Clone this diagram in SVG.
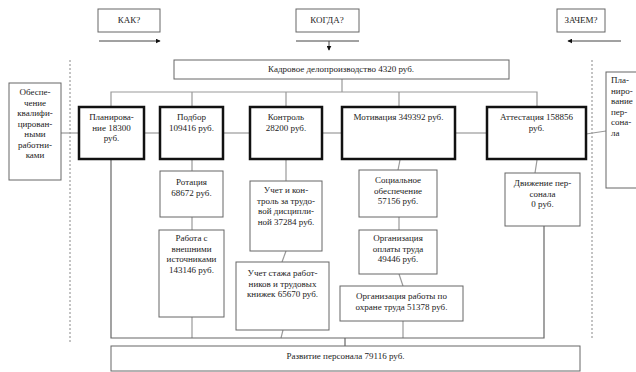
<svg xmlns="http://www.w3.org/2000/svg" width="636" height="372" viewBox="0 0 636 372">
<defs>
<style>
.t{font-family:"Liberation Serif","Times New Roman",serif;font-size:9px;fill:#222}
.c{text-anchor:middle}
.box{fill:#fff;stroke:#666;stroke-width:1}
.main{fill:#fff;stroke:#111;stroke-width:2.5}
.ln{stroke:#999;stroke-width:1.2;fill:none}
.dk{stroke:#666;stroke-width:1.2;fill:none}
.dash{stroke:#888;stroke-width:1;stroke-dasharray:2,2;fill:none}
.ar{stroke:#444;stroke-width:1;fill:none}
</style>
<marker id="ah" viewBox="0 0 8 8" refX="7" refY="4" markerWidth="5" markerHeight="5" orient="auto" markerUnits="userSpaceOnUse">
<path d="M0,0 L8,4 L0,8 z" fill="#111"/>
</marker>
</defs>
<rect width="636" height="372" fill="#fff"/>

<g id="connectors">
<line class="dash" x1="70" y1="60" x2="70" y2="344"/>
<line class="dash" x1="592" y1="60" x2="592" y2="338"/>
<line class="ar" x1="99" y1="41" x2="160" y2="41" marker-end="url(#ah)"/>
<line class="ar" x1="296" y1="41" x2="359" y2="41"/>
<line class="ar" x1="329" y1="41" x2="329" y2="50" marker-end="url(#ah)"/>
<line class="ar" x1="621" y1="41" x2="568" y2="41" marker-end="url(#ah)"/>
<line class="ln" x1="342" y1="79" x2="342" y2="92"/>
<polyline class="ln" points="111,108 111,92 537,92 537,108"/>
<line class="ln" x1="192" y1="92" x2="192" y2="108"/>
<line class="ln" x1="286" y1="92" x2="286" y2="108"/>
<line class="ln" x1="399" y1="92" x2="399" y2="108"/>
<line class="ln" x1="61" y1="133" x2="79" y2="133"/>
<line class="ln" x1="144" y1="133" x2="160" y2="133"/>
<line class="ln" x1="223" y1="133" x2="250" y2="133"/>
<line class="ln" x1="322" y1="133" x2="342" y2="133"/>
<line class="ln" x1="455" y1="133" x2="487" y2="133"/>
<line class="ln" x1="586" y1="134" x2="606" y2="131"/>
<line class="ln" x1="192" y1="160" x2="192" y2="171"/>
<line class="ln" x1="192" y1="217" x2="192" y2="230"/>
<line class="ln" x1="192" y1="317" x2="192" y2="338"/>
<line class="ln" x1="286" y1="160" x2="286" y2="181"/>
<line class="ln" x1="286" y1="251" x2="282" y2="262"/>
<line class="ln" x1="283" y1="330" x2="281" y2="338"/>
<line class="ln" x1="400" y1="160" x2="398" y2="170"/>
<line class="ln" x1="399" y1="217" x2="399" y2="230"/>
<line class="ln" x1="399" y1="274" x2="403" y2="286"/>
<line class="ln" x1="403" y1="321" x2="403" y2="338"/>
<line class="ln" x1="537" y1="160" x2="535" y2="173"/>
<polyline class="dk" points="111,160 111,338 544,338 544,226"/>
<line class="dk" x1="345" y1="338" x2="345" y2="346"/>
</g>

<g id="kak"><rect class="box" x="98" y="9" width="62" height="23"/><text class="t c" x="129" y="23">КАК?</text></g>
<g id="kogda"><rect class="box" x="296" y="9" width="63" height="23"/><text class="t c" x="327" y="23">КОГДА?</text></g>
<g id="zachem"><rect class="box" x="557" y="9" width="48" height="23"/><text class="t c" x="581" y="23">ЗАЧЕМ?</text></g>

<g id="kadr"><rect class="box" x="174" y="60" width="335" height="19"/><text class="t c" x="341" y="72">Кадровое делопроизводство 4320 руб.</text></g>

<g id="obesp"><rect class="box" x="9" y="83" width="52" height="97"/>
<text class="t c" x="35" y="95">Обеспе-</text>
<text class="t c" x="35" y="105.5">чение</text>
<text class="t c" x="35" y="116">квалифи-</text>
<text class="t c" x="35" y="126.5">цирован-</text>
<text class="t c" x="35" y="137">ными</text>
<text class="t c" x="35" y="147.5">работни-</text>
<text class="t c" x="35" y="158">ками</text>
</g>

<g id="planpers"><rect class="box" x="606" y="72" width="40" height="116"/>
<text class="t" x="611" y="83">Пла-</text>
<text class="t" x="611" y="93.5">ниро-</text>
<text class="t" x="611" y="104">вание</text>
<text class="t" x="611" y="114.5">пер-</text>
<text class="t" x="611" y="125">сона-</text>
<text class="t" x="611" y="135.5">ла</text>
</g>

<g id="plan"><rect class="main" x="79" y="107" width="65" height="52"/>
<text class="t c" x="111.5" y="120">Планирова-</text>
<text class="t c" x="111.5" y="130.5">ние 18300</text>
<text class="t c" x="111.5" y="141">руб.</text>
</g>
<g id="podbor"><rect class="main" x="160" y="107" width="63" height="52"/>
<text class="t c" x="191.5" y="120">Подбор</text>
<text class="t c" x="191.5" y="130.5">109416 руб.</text>
</g>
<g id="kontrol"><rect class="main" x="250" y="107" width="72" height="52"/>
<text class="t c" x="286" y="120">Контроль</text>
<text class="t c" x="286" y="130.5">28200 руб.</text>
</g>
<g id="motiv"><rect class="main" x="342" y="107" width="113" height="52"/>
<text class="t c" x="398.5" y="120">Мотивация 349392 руб.</text>
</g>
<g id="attest"><rect class="main" x="487" y="107" width="99" height="52"/>
<text class="t c" x="536.5" y="120">Аттестация 158856</text>
<text class="t c" x="536.5" y="130.5">руб.</text>
</g>

<g id="rotac"><rect class="box" x="160" y="171" width="63" height="46"/>
<text class="t c" x="191.5" y="185">Ротация</text>
<text class="t c" x="191.5" y="195.5">68672 руб.</text>
</g>
<g id="rabota"><rect class="box" x="159" y="230" width="65" height="87"/>
<text class="t c" x="191.5" y="241">Работа с</text>
<text class="t c" x="191.5" y="251.5">внешними</text>
<text class="t c" x="191.5" y="262">источниками</text>
<text class="t c" x="191.5" y="272.5">143146 руб.</text>
</g>

<g id="uchet1"><rect class="box" x="250" y="181" width="72" height="70"/>
<text class="t c" x="286" y="193">Учет и кон-</text>
<text class="t c" x="286" y="203.5">троль за трудо-</text>
<text class="t c" x="286" y="214">вой дисципли-</text>
<text class="t c" x="286" y="224.5">ной 37284 руб.</text>
</g>
<g id="uchet2"><rect class="box" x="236" y="262" width="93" height="68"/>
<text class="t c" x="282.5" y="276">Учет стажа работ-</text>
<text class="t c" x="282.5" y="286.5">ников и трудовых</text>
<text class="t c" x="282.5" y="297">книжек 65670 руб.</text>
</g>

<g id="social"><rect class="box" x="359" y="170" width="78" height="47"/>
<text class="t c" x="398" y="183">Социальное</text>
<text class="t c" x="398" y="193.5">обеспечение</text>
<text class="t c" x="398" y="204">57156 руб.</text>
</g>
<g id="oplata"><rect class="box" x="359" y="230" width="78" height="44"/>
<text class="t c" x="398" y="241">Организация</text>
<text class="t c" x="398" y="251.5">оплаты труда</text>
<text class="t c" x="398" y="262">49446 руб.</text>
</g>
<g id="ohrana"><rect class="box" x="340" y="286" width="123" height="35"/>
<text class="t c" x="401.5" y="299">Организация работы по</text>
<text class="t c" x="401.5" y="309.5">охране труда 51378 руб.</text>
</g>

<g id="dvizh"><rect class="box" x="505" y="173" width="75" height="53"/>
<text class="t c" x="542.5" y="186">Движение пер-</text>
<text class="t c" x="542.5" y="196.5">сонала</text>
<text class="t c" x="542.5" y="207">0 руб.</text>
</g>

<g id="razvit"><rect class="box" x="111" y="346" width="469" height="25"/>
<text class="t c" x="345.5" y="359">Развитие персонала 79116 руб.</text>
</g>
</svg>
